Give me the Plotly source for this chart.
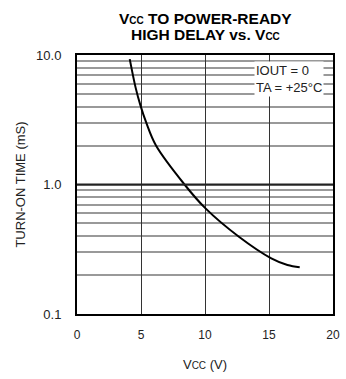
import plotly.graph_objects as go

vcc = [4.12, 4.58, 4.95, 5.41, 6.17, 8.4, 10.0, 12.65, 15.18, 16.44, 17.4]
t_on = [9.3, 5.6, 4.1, 3.0, 2.0, 1.0, 0.66, 0.395, 0.269, 0.239, 0.23]
x_ticks = [0, 5, 10, 15, 20]
y_ticks = [0.1, 1.0, 10.0]
y_tick_text = ["0.1", "1.0", "10.0"]

FONT = "Liberation Sans Narrow, Liberation Sans, Arial, sans-serif"
TFONT = "Liberation Sans, Arial, sans-serif"

fig = go.Figure()
fig.add_trace(go.Scatter(x=vcc, y=t_on, mode="lines",
                         line=dict(color="black", width=2, shape="spline", smoothing=1.0),
                         showlegend=False, hoverinfo="skip"))

fig.update_layout(
    width=346, height=379,
    margin=dict(l=77, r=6, t=55, b=65),
    paper_bgcolor="white", plot_bgcolor="white",
    xaxis=dict(range=[0, 20], tickvals=x_ticks, ticks="", showgrid=True,
               gridcolor="#333", gridwidth=1, showline=True, linecolor="black", linewidth=2,
               mirror=True, zeroline=False, ticklabelstandoff=9,
               tickfont=dict(family=FONT, size=12, color="#222"),
               title=dict(text="V<span style='font-size:10px'>CC</span> (V)", standoff=18,
                          font=dict(family=FONT, size=13, color="#222"))),
    yaxis=dict(type="log", range=[-1, 1], tickvals=y_ticks, ticktext=y_tick_text, ticks="",
               showgrid=True, gridcolor="#999", gridwidth=1,
               minor=dict(showgrid=True, gridcolor="#999", gridwidth=1.5, dtick="D1"),
               showline=True, linecolor="black", linewidth=2, mirror=True, zeroline=False,
               ticklabelstandoff=11,
               tickfont=dict(family=FONT, size=13, color="#222"),
               title=dict(text="TURN-ON TIME (mS)", standoff=8,
                          font=dict(family=FONT, size=13, color="#222"))),
)

fig.add_hline(y=1.0, line=dict(color="#222", width=2))

# title (two lines)
fig.add_annotation(x=0.5, y=(314 - 18) / 259, xref="paper", yref="paper",
                   xanchor="center", yanchor="middle", showarrow=False,
                   text="<b>V<span style='font-size:10px'>CC</span> TO POWER-READY</b>",
                   font=dict(family=TFONT, size=15.5, color="black"))
fig.add_annotation(x=0.5, y=(314 - 35) / 259, xref="paper", yref="paper",
                   xanchor="center", yanchor="middle", showarrow=False,
                   text="<b>HIGH DELAY vs. V<span style='font-size:10px'>CC</span></b>",
                   font=dict(family=TFONT, size=15.5, color="black"))

fig.add_annotation(x=(259 - 77) / 263, y=(314 - 79) / 259, xref="paper", yref="paper",
                   xanchor="left", yanchor="middle",
                   align="left", showarrow=False, bgcolor="white",
                   text="IOUT = 0<br>TA = +25°C",
                   font=dict(family=FONT, size=13, color="#222"))

fig.write_html("out.html", config={"displayModeBar": False},
               post_script="document.body.style.margin='0';document.body.style.overflow='hidden';")
